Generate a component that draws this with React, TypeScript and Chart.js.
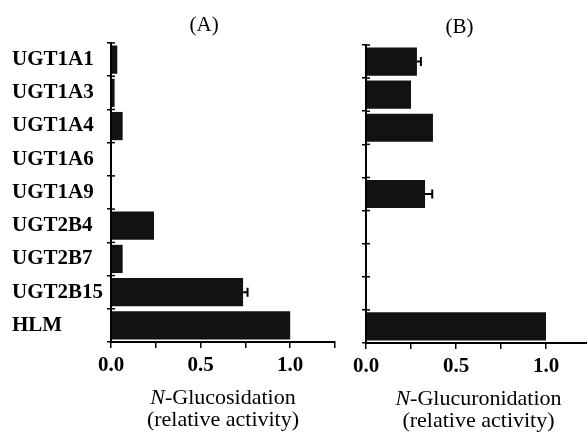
import React, { useEffect, useRef } from 'react';
import { Chart, registerables } from 'chart.js';

Chart.register(...registerables);

const categories = ['UGT1A1', 'UGT1A3', 'UGT1A4', 'UGT1A6', 'UGT1A9', 'UGT2B4', 'UGT2B7', 'UGT2B15', 'HLM'];
const glucosidation = [0.035, 0.02, 0.065, 0, 0, 0.24, 0.065, 0.737, 1.0];
const glucosidationErr = [0, 0, 0, 0, 0, 0, 0, 0.025, 0];
const glucuronidation = [0.283, 0.25, 0.372, 0, 0.328, 0, 0, 0, 1.0];
const glucuronidationErr = [0.022, 0, 0, 0, 0.04, 0, 0, 0, 0];
const xMin = 0;
const xMax = 1.25;
const xStep = 0.25;
const xLabelStep = 0.5;

const SERIF = "'Liberation Serif', 'Times New Roman', Times, serif";

type PanelProps = {
  values: number[];
  errors: number[];
  panel: string;
  titleWord: string;
  showCategoryLabels: boolean;
  left: number;
  width: number;
  height: number;
  padLeft: number;
  padTop: number;
  yWidth: number;
  xHeight: number;
};

function Panel(p: PanelProps) {
  const ref = useRef<HTMLCanvasElement>(null);
  useEffect(() => {
    const canvas = ref.current;
    if (!canvas) return;
    const decor = {
      id: 'decor',
      afterDraw(chart: any) {
        const ctx = chart.ctx as CanvasRenderingContext2D;
        const x = chart.scales.x;
        const y = chart.scales.y;
        const area = chart.chartArea;
        ctx.save();
        ctx.fillStyle = '#000';
        ctx.strokeStyle = '#000';
        // inward halves of the y tick marks (they cross the axis)
        ctx.lineWidth = 1.5;
        const n = categories.length;
        for (let i = 0; i <= n; i++) {
          const yy = y.getPixelForValue(i - 0.5);
          ctx.beginPath();
          ctx.moveTo(area.left, yy);
          ctx.lineTo(area.left + 4, yy);
          ctx.stroke();
        }
        // panel label
        ctx.font = `21px ${SERIF}`;
        ctx.textAlign = 'center';
        ctx.textBaseline = 'middle';
        ctx.fillText(p.panel, x.getPixelForValue(0.52), area.top - 18);
        // error bars
        ctx.lineWidth = 2;
        p.errors.forEach((e, i) => {
          if (!e) return;
          const v = p.values[i];
          const cy = y.getPixelForValue(i);
          const x0 = x.getPixelForValue(v);
          const x1 = x.getPixelForValue(v + e);
          ctx.beginPath();
          ctx.moveTo(x0, cy);
          ctx.lineTo(x1, cy);
          ctx.moveTo(x1, cy - 4.5);
          ctx.lineTo(x1, cy + 4.5);
          ctx.stroke();
        });
        // axis title
        const cx = (area.left + area.right) / 2;
        const italic = `italic 22px ${SERIF}`;
        const normal = `22px ${SERIF}`;
        ctx.font = italic;
        const wN = ctx.measureText('N').width;
        ctx.font = normal;
        const rest = '-' + p.titleWord;
        const wR = ctx.measureText(rest).width;
        const start = cx - (wN + wR) / 2;
        const y1 = area.bottom + 56;
        ctx.textAlign = 'left';
        ctx.font = italic;
        ctx.fillText('N', start, y1);
        ctx.font = normal;
        ctx.fillText(rest, start + wN, y1);
        ctx.textAlign = 'center';
        ctx.fillText('(relative activity)', cx, y1 + 22);
        ctx.restore();
      },
    };

    const chart = new Chart(canvas, {
      type: 'bar',
      data: {
        labels: categories,
        datasets: [
          {
            data: p.values,
            backgroundColor: '#121212',
            borderWidth: 0,
            barPercentage: 0.85,
            categoryPercentage: 1,
          },
        ],
      },
      options: {
        indexAxis: 'y',
        responsive: false,
        animation: false,
        devicePixelRatio: 1,
        layout: { padding: { left: p.padLeft, top: p.padTop, right: 5, bottom: 0 } },
        plugins: {
          legend: { display: false },
          tooltip: { enabled: false },
          title: { display: false },
        },
        scales: {
          x: {
            type: 'linear',
            min: xMin,
            max: xMax,
            position: 'bottom',
            afterFit: (s: any) => {
              s.height = p.xHeight;
            },
            ticks: {
              stepSize: xStep,
              autoSkip: false,
              maxRotation: 0,
              color: '#000',
              padding: 5,
              font: { family: SERIF, size: 21, weight: 'bold' },
              callback: (v: any) => {
                const n = Number(v);
                const r = n / xLabelStep;
                return Math.abs(r - Math.round(r)) < 1e-9 ? n.toFixed(1) : '';
              },
            },
            grid: { drawOnChartArea: false, drawTicks: true, tickLength: 6, color: '#000', lineWidth: 1.5 },
            border: { color: '#000', width: 2 },
          },
          y: {
            afterFit: (s: any) => {
              s.width = p.yWidth;
            },
            ticks: {
              autoSkip: false,
              crossAlign: 'far',
              color: '#000',
              padding: 6,
              font: { family: SERIF, size: 21, weight: 'bold' },
              callback: (_v: any, i: number) => (p.showCategoryLabels ? categories[i] : ''),
            },
            grid: { drawOnChartArea: false, drawTicks: true, tickLength: 4, color: '#000', lineWidth: 1.5, offset: true },
            border: { color: '#000', width: 2 },
          },
        },
      } as any,
      plugins: [decor],
    });
    return () => chart.destroy();
  }, []);
  return (
    <canvas
      ref={ref}
      width={p.width}
      height={p.height}
      style={{ position: 'absolute', left: p.left, top: 0, width: p.width, height: p.height }}
    />
  );
}

export default function App() {
  return (
    <div
      style={{
        position: 'fixed',
        left: 0,
        top: 0,
        width: 587,
        height: 433,
        overflow: 'hidden',
        background: '#fff',
      }}
    >
      <Panel
        values={glucosidation}
        errors={glucosidationErr}
        panel="(A)"
        titleWord="Glucosidation"
        showCategoryLabels={true}
        left={0}
        width={340}
        height={433}
        padLeft={12}
        padTop={43}
        yWidth={99}
        xHeight={91}
      />
      <Panel
        values={glucuronidation}
        errors={glucuronidationErr}
        panel="(B)"
        titleWord="Glucuronidation"
        showCategoryLabels={false}
        left={340}
        width={256}
        height={433}
        padLeft={0}
        padTop={45}
        yWidth={26}
        xHeight={90}
      />
    </div>
  );
}
